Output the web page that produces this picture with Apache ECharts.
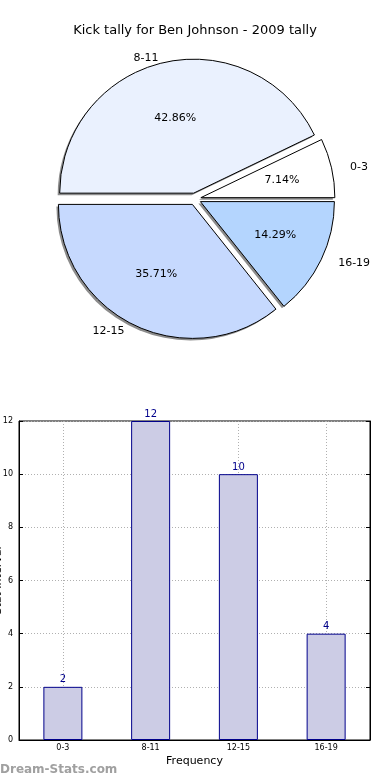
<!DOCTYPE html>
<html><head><meta charset="utf-8">
<script src="https://cdn.jsdelivr.net/npm/echarts@6/dist/echarts.min.js"></script>
<style>html,body{margin:0;padding:0;background:#fff}#c{width:390px;height:780px}</style>
</head><body><div id="c"></div>
<script>
const titleText = 'Kick tally for Ben Johnson - 2009 tally';
const categories = ['0-3', '8-11', '12-15', '16-19'];
const values = [2, 12, 10, 4];
const pieColors = ['#FFFFFF', '#EAF1FE', '#C6D9FE', '#B4D5FE'];
const yTicks = [0, 2, 4, 6, 8, 10, 12];
const xName = 'Frequency';
const yName = 'Stat Interval';
const watermark = 'Dream-Stats.com';

const FONT = 'DejaVu Sans';
const R = 134;
const C = [195, 199];
const OFF = 6;

const total = values.reduce((a, b) => a + b, 0);
const midAngles = [];
(function () { let acc = 0; values.forEach(v => { midAngles.push((acc + v / 2) / total * 2 * Math.PI); acc += v; }); })();

function ellipseLayout(k, rx, ry, sideAlign) {
  return function (p) {
    const a = midAngles[p.dataIndex];
    const c = Math.cos(a), s = Math.sin(a);
    return {dx: c * k * (rx - R), dy: -s * k * (ry - R),
      align: sideAlign ? (c < 0 ? 'right' : 'left') : 'center', verticalAlign: 'middle'};
  };
}

const mk = (col) => categories.map((c, i) => ({name: c, value: values[i], selected: true,
  itemStyle: {color: col || pieColors[i]}}));

const chart = echarts.init(document.getElementById('c'), null, {renderer: 'canvas'});
chart.setOption({
  animation: false,
  backgroundColor: '#fff',
  title: {text: titleText, left: 'center', top: 19,
    textStyle: {fontFamily: FONT, fontSize: 13, fontWeight: 'normal', color: '#000'}},
  graphic: [{type: 'text', left: 0, top: 764,
    style: {text: watermark, fontFamily: FONT, fontSize: 12, fontWeight: 'bold', fill: '#a0a0a0'}}],
  grid: {left: 19, right: 20, top: 421, height: 319, containLabel: false, outerBoundsMode: 'none',
    show: true, borderColor: '#000', borderWidth: 1, backgroundColor: 'transparent'},
  xAxis: [{type: 'category', data: categories, boundaryGap: true,
    name: xName, nameLocation: 'middle', nameGap: 16, nameMoveOverlap: false,
    nameTextStyle: {fontFamily: FONT, fontSize: 11, color: '#000'},
    axisLine: {lineStyle: {color: '#000'}},
    axisTick: {show: true, inside: true, alignWithLabel: true, length: 4, lineStyle: {color: '#000'}},
    axisLabel: {fontFamily: FONT, fontSize: 8, color: '#000', margin: 4},
    splitLine: {show: true, alignWithLabel: true, lineStyle: {color: '#b0b0b0', type: [1, 2], width: 1}}}],
  yAxis: [{type: 'value', min: 0, max: 12, interval: 2,
    name: yName, nameLocation: 'middle', nameGap: 15, nameRotate: 90, nameMoveOverlap: false,
    nameTextStyle: {fontFamily: FONT, fontSize: 11, color: '#000'},
    axisLine: {show: true, lineStyle: {color: '#000'}},
    axisTick: {show: true, inside: true, length: 4, lineStyle: {color: '#000'}},
    axisLabel: {fontFamily: FONT, fontSize: 8, color: '#000', margin: 6},
    splitLine: {show: true, lineStyle: {color: '#b0b0b0', type: [1, 2], width: 1}}},
   {type: 'value', min: 0, max: 12, interval: 2, position: 'right',
    axisLine: {show: true, lineStyle: {color: '#000'}},
    axisTick: {show: true, inside: true, length: 4, lineStyle: {color: '#000'}},
    axisLabel: {show: false}, splitLine: {show: false}}],
  series: [
    {type: 'pie', center: [C[0] - 2, C[1] + 2], radius: [0, R], clockwise: false, startAngle: 0,
     selectedMode: 'multiple', selectedOffset: OFF, silent: true,
     itemStyle: {borderWidth: 0},
     label: {show: false}, labelLine: {show: false}, data: mk('rgba(0,0,0,0.45)'), z: 1},
    {type: 'pie', center: C, radius: [0, R], clockwise: false, startAngle: 0,
     selectedMode: 'multiple', selectedOffset: OFF, silent: true,
     itemStyle: {borderColor: '#000', borderWidth: 1},
     label: {show: false}, labelLine: {show: false}, data: mk(), z: 2},
    {type: 'pie', center: C, radius: [0, R * 1.2 - 3], clockwise: false, startAngle: 0,
     selectedMode: 'multiple', selectedOffset: OFF, silent: true,
     itemStyle: {borderWidth: 0},
     label: {show: true, position: 'inside', formatter: '{d}%', fontFamily: FONT, fontSize: 11, color: '#000'},
     labelLayout: ellipseLayout(0.6, 136, 126, false),
     labelLine: {show: false}, data: mk('rgba(0,0,0,0)'), z: 3},
    {type: 'pie', center: [C[0] - 1, C[1] + 1], radius: [0, R * 2.2 - 6], clockwise: false, startAngle: 0,
     selectedMode: 'multiple', selectedOffset: OFF, silent: true,
     itemStyle: {borderWidth: 0},
     label: {show: true, position: 'inside', formatter: '{b}', fontFamily: FONT, fontSize: 11, color: '#000'},
     labelLayout: ellipseLayout(1.1, 140, 127, true),
     labelLine: {show: false}, data: mk('rgba(0,0,0,0)'), z: 3},
    {type: 'bar', data: values, barWidth: 39,
     itemStyle: {color: '#CCCCE5', borderColor: '#00008B', borderWidth: 1},
     label: {show: true, position: 'top', distance: 2, fontFamily: FONT, fontSize: 10, color: '#00008B'}, z: 3}
  ]
});
</script></body></html>
